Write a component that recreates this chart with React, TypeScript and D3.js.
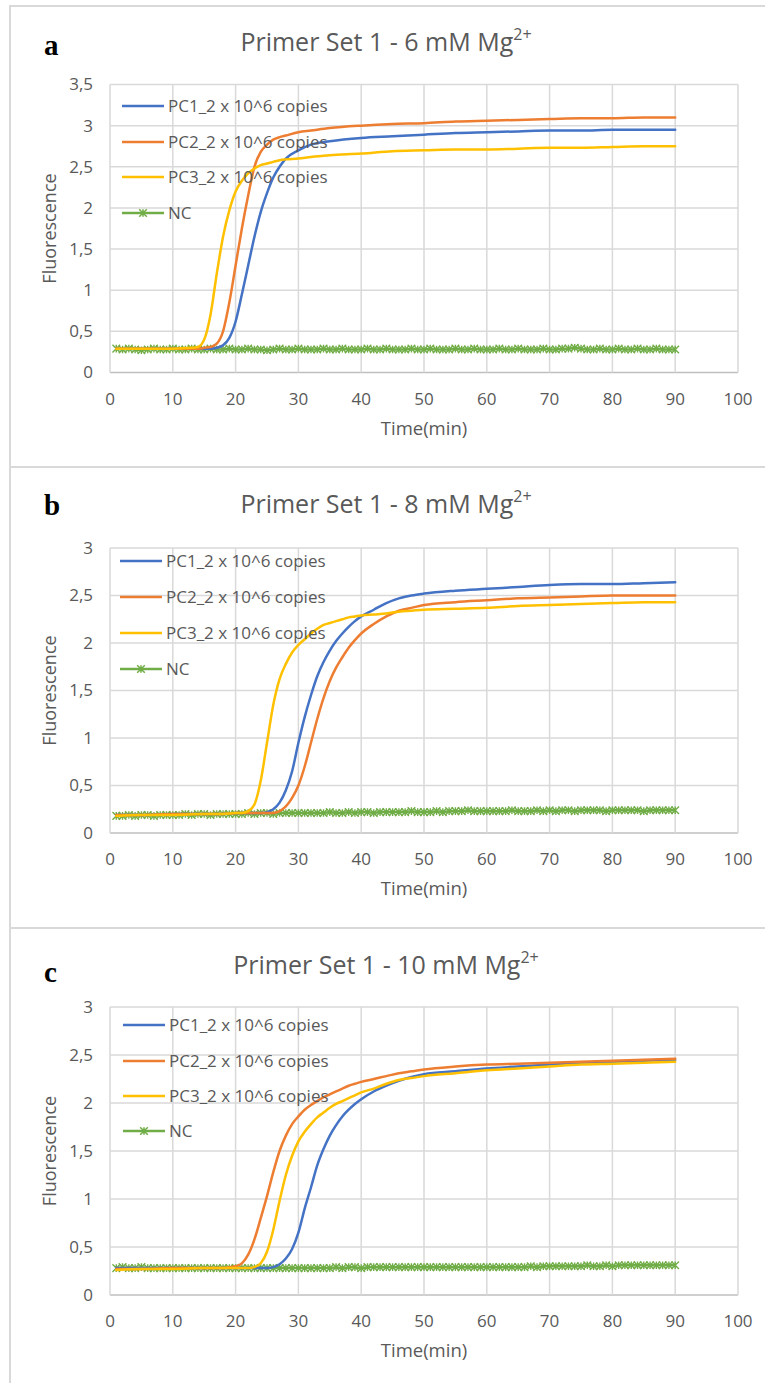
import React from 'react';
import * as d3 from 'd3';

// ---------- shared categories ----------
const X_TICKS = [0, 10, 20, 30, 40, 50, 60, 70, 80, 90, 100];
const Y_TICKS_A = [0, 0.5, 1, 1.5, 2, 2.5, 3, 3.5];
const Y_TICKS_BC = [0, 0.5, 1, 1.5, 2, 2.5, 3];
const SERIES_NAMES = ['PC1_2 x 10^6 copies', 'PC2_2 x 10^6 copies', 'PC3_2 x 10^6 copies', 'NC'];
const PANEL_LETTERS = ['a', 'b', 'c'];
const PANEL_MG = ['6', '8', '10'];
const NC_TIME = d3.range(1, 91);

// ---------- panel a (6 mM) ----------
const timeA = [1, 5, 10, 13, 14, 15, 16, 17, 18, 19, 20, 21, 22, 23, 24, 25, 26, 27, 28, 30, 32, 35, 40, 45, 50, 55, 60, 65, 70, 75, 80, 85, 90];
const pc1A = [0.29, 0.29, 0.29, 0.29, 0.29, 0.29, 0.29, 0.30, 0.33, 0.42, 0.62, 0.95, 1.30, 1.65, 1.95, 2.18, 2.37, 2.50, 2.60, 2.70, 2.77, 2.81, 2.85, 2.87, 2.89, 2.91, 2.92, 2.93, 2.94, 2.94, 2.95, 2.95, 2.95];
const pc2A = [0.29, 0.29, 0.29, 0.29, 0.29, 0.30, 0.31, 0.35, 0.50, 0.85, 1.30, 1.75, 2.15, 2.50, 2.68, 2.77, 2.83, 2.86, 2.88, 2.92, 2.94, 2.97, 3.00, 3.02, 3.03, 3.05, 3.06, 3.07, 3.08, 3.09, 3.09, 3.10, 3.10];
const pc3A = [0.29, 0.29, 0.29, 0.30, 0.31, 0.40, 0.70, 1.20, 1.65, 1.97, 2.20, 2.33, 2.42, 2.48, 2.52, 2.54, 2.56, 2.58, 2.59, 2.60, 2.62, 2.64, 2.66, 2.69, 2.70, 2.71, 2.71, 2.72, 2.73, 2.73, 2.74, 2.75, 2.75];
const ncA = [
  0.29, 0.28, 0.29, 0.28, 0.27, 0.28, 0.29, 0.28, 0.28, 0.29,
  0.28, 0.28, 0.29, 0.28, 0.28, 0.29, 0.28, 0.28, 0.29, 0.28,
  0.28, 0.29, 0.28, 0.28, 0.27, 0.28, 0.29, 0.28, 0.28, 0.29,
  0.28, 0.28, 0.28, 0.29, 0.28, 0.28, 0.29, 0.28, 0.28, 0.28,
  0.29, 0.28, 0.28, 0.29, 0.28, 0.28, 0.28, 0.29, 0.28, 0.28,
  0.29, 0.28, 0.28, 0.28, 0.29, 0.28, 0.28, 0.29, 0.28, 0.28,
  0.28, 0.29, 0.28, 0.28, 0.29, 0.28, 0.28, 0.28, 0.29, 0.28,
  0.28, 0.29, 0.29, 0.30, 0.29, 0.28, 0.28, 0.29, 0.28, 0.28,
  0.29, 0.28, 0.28, 0.29, 0.28, 0.28, 0.29, 0.28, 0.28, 0.28,
];

// ---------- panel b (8 mM) ----------
const timeB = [1, 5, 10, 15, 18, 20, 21, 22, 23, 24, 25, 26, 27, 28, 29, 30, 31, 32, 33, 34, 35, 36, 37, 38, 39, 40, 42, 44, 46, 48, 50, 55, 60, 65, 70, 75, 80, 85, 90];
const pc1B = [0.19, 0.19, 0.20, 0.20, 0.20, 0.21, 0.21, 0.21, 0.21, 0.21, 0.22, 0.25, 0.32, 0.45, 0.65, 0.95, 1.22, 1.45, 1.65, 1.80, 1.92, 2.02, 2.10, 2.17, 2.23, 2.28, 2.35, 2.42, 2.47, 2.50, 2.52, 2.55, 2.57, 2.59, 2.61, 2.62, 2.62, 2.63, 2.64];
const pc2B = [0.19, 0.19, 0.20, 0.20, 0.20, 0.21, 0.21, 0.21, 0.21, 0.21, 0.21, 0.21, 0.23, 0.28, 0.37, 0.50, 0.70, 0.95, 1.20, 1.42, 1.60, 1.74, 1.85, 1.95, 2.03, 2.10, 2.20, 2.28, 2.34, 2.37, 2.40, 2.43, 2.45, 2.47, 2.48, 2.49, 2.50, 2.50, 2.50];
const pc3B = [0.18, 0.19, 0.19, 0.20, 0.20, 0.21, 0.21, 0.23, 0.30, 0.55, 0.95, 1.35, 1.62, 1.78, 1.90, 1.98, 2.04, 2.10, 2.15, 2.19, 2.21, 2.23, 2.25, 2.27, 2.28, 2.29, 2.30, 2.31, 2.33, 2.34, 2.35, 2.36, 2.37, 2.39, 2.40, 2.41, 2.42, 2.43, 2.43];
const ncB = [
  0.18, 0.18, 0.19, 0.18, 0.19, 0.19, 0.18, 0.19, 0.19, 0.19,
  0.19, 0.20, 0.19, 0.20, 0.20, 0.19, 0.20, 0.20, 0.20, 0.20,
  0.20, 0.21, 0.20, 0.21, 0.21, 0.20, 0.21, 0.21, 0.21, 0.21,
  0.21, 0.21, 0.21, 0.21, 0.22, 0.21, 0.21, 0.22, 0.21, 0.22,
  0.22, 0.21, 0.22, 0.22, 0.22, 0.22, 0.22, 0.23, 0.22, 0.22,
  0.22, 0.23, 0.22, 0.23, 0.23, 0.23, 0.24, 0.23, 0.23, 0.23,
  0.23, 0.23, 0.23, 0.24, 0.23, 0.23, 0.23, 0.24, 0.23, 0.24,
  0.23, 0.24, 0.24, 0.23, 0.24, 0.24, 0.24, 0.24, 0.23, 0.24,
  0.24, 0.24, 0.24, 0.24, 0.23, 0.24, 0.24, 0.24, 0.24, 0.24,
];

// ---------- panel c (10 mM) ----------
const timeC = [1, 5, 10, 15, 18, 19, 20, 21, 22, 23, 24, 25, 26, 27, 28, 29, 30, 31, 32, 33, 34, 35, 36, 37, 38, 39, 40, 42, 44, 46, 48, 50, 55, 60, 65, 70, 75, 80, 85, 90];
const pc1C = [0.28, 0.28, 0.28, 0.28, 0.28, 0.28, 0.28, 0.28, 0.28, 0.28, 0.28, 0.28, 0.29, 0.32, 0.38, 0.48, 0.65, 0.90, 1.12, 1.35, 1.52, 1.66, 1.77, 1.86, 1.93, 1.99, 2.04, 2.12, 2.18, 2.23, 2.27, 2.30, 2.33, 2.36, 2.38, 2.40, 2.42, 2.43, 2.44, 2.45];
const pc2C = [0.27, 0.27, 0.28, 0.28, 0.28, 0.29, 0.30, 0.33, 0.42, 0.58, 0.80, 1.03, 1.28, 1.50, 1.66, 1.78, 1.86, 1.93, 1.98, 2.02, 2.06, 2.09, 2.12, 2.15, 2.18, 2.20, 2.22, 2.25, 2.28, 2.31, 2.33, 2.35, 2.38, 2.40, 2.41, 2.42, 2.43, 2.44, 2.45, 2.46];
const pc3C = [0.26, 0.27, 0.27, 0.28, 0.28, 0.28, 0.28, 0.28, 0.28, 0.29, 0.33, 0.45, 0.68, 0.98, 1.25, 1.45, 1.60, 1.70, 1.78, 1.85, 1.90, 1.95, 1.99, 2.02, 2.05, 2.08, 2.11, 2.15, 2.20, 2.24, 2.26, 2.28, 2.31, 2.34, 2.36, 2.38, 2.40, 2.41, 2.42, 2.43];
const ncC = [
  0.28, 0.29, 0.28, 0.28, 0.29, 0.28, 0.28, 0.28, 0.28, 0.28,
  0.28, 0.28, 0.28, 0.28, 0.28, 0.28, 0.28, 0.28, 0.28, 0.28,
  0.28, 0.28, 0.28, 0.28, 0.28, 0.28, 0.28, 0.28, 0.28, 0.28,
  0.28, 0.28, 0.28, 0.28, 0.28, 0.29, 0.28, 0.29, 0.29, 0.28,
  0.29, 0.29, 0.29, 0.29, 0.29, 0.29, 0.29, 0.29, 0.29, 0.29,
  0.29, 0.29, 0.29, 0.29, 0.29, 0.29, 0.29, 0.29, 0.29, 0.29,
  0.29, 0.29, 0.29, 0.29, 0.29, 0.29, 0.30, 0.29, 0.30, 0.30,
  0.30, 0.30, 0.30, 0.30, 0.30, 0.31, 0.30, 0.30, 0.31, 0.30,
  0.31, 0.31, 0.31, 0.31, 0.31, 0.31, 0.31, 0.31, 0.31, 0.31,
];

// ---------- styles / layout ----------
const COLORS = ['#4472C4', '#ED7D31', '#FFC000', '#70AD47'];
const TEXT = '#595959';
const GRID = '#D9D9D9';
const AXIS = '#BFBFBF';
const FONT = "'Open Sans', 'Noto Sans', sans-serif";
const W = 765;
const H = 1383;
const PLOT_X0 = 110;
const PLOT_X1 = 738;

const LAYOUT = [
  { top: 84.5, bottom: 372.5, yMax: 3.5, yTicks: Y_TICKS_A, border: 6, title: 51, letter: 55, legendY: [106, 142, 177, 213], legendX: 122 },
  { top: 548, bottom: 833, yMax: 3, yTicks: Y_TICKS_BC, border: 467, title: 513, letter: 515, legendY: [561, 597, 633, 669], legendX: 120 },
  { top: 1007, bottom: 1295, yMax: 3, yTicks: Y_TICKS_BC, border: 928, title: 974, letter: 982, legendY: [1025, 1061, 1096, 1131], legendX: 123 },
];

const PANELS = [
  { time: timeA, series: [pc1A, pc2A, pc3A], nc: ncA },
  { time: timeB, series: [pc1B, pc2B, pc3B], nc: ncB },
  { time: timeC, series: [pc1C, pc2C, pc3C], nc: ncC },
];

const starPath = (s: number) => `M${-s},${-s}L${s},${s}M${-s},${s}L${s},${-s}M0,${-s}L0,${s}`;

function Panel({ idx }: { idx: number }) {
  const L = LAYOUT[idx];
  const P = PANELS[idx];
  const x = d3.scaleLinear().domain([0, 100]).range([PLOT_X0, PLOT_X1]);
  const y = d3.scaleLinear().domain([0, L.yMax]).range([L.bottom, L.top]);
  const line = d3
    .line<[number, number]>()
    .x((d) => x(d[0]))
    .y((d) => y(d[1]))
    .curve(d3.curveMonotoneX);
  const ncLine = d3
    .line<[number, number]>()
    .x((d) => x(d[0]))
    .y((d) => y(d[1]));
  const ncPts: [number, number][] = NC_TIME.map((t, i) => [t, P.nc[i]]);
  const cx = (PLOT_X0 + PLOT_X1) / 2;
  const cy = (L.top + L.bottom) / 2;
  return (
    <g>
      {/* panel frame */}
      <line x1={10} x2={W} y1={L.border} y2={L.border} stroke={GRID} strokeWidth={2} />
      {/* letter */}
      <text x={44} y={L.letter} fontFamily="'Liberation Serif', 'Times New Roman', serif" fontWeight="bold" fontSize={29} fill="#000">
        {PANEL_LETTERS[idx]}
      </text>
      {/* title */}
      <text x={386} y={L.title} textAnchor="middle" fontFamily={FONT} fontSize={25} fill={TEXT}>
        {`Primer Set 1 - ${PANEL_MG[idx]} mM Mg`}
        <tspan dy={-11} fontSize={16}>2+</tspan>
      </text>
      {/* grid */}
      {L.yTicks.map((t) => (
        <line key={'h' + t} x1={PLOT_X0} x2={PLOT_X1} y1={y(t)} y2={y(t)} stroke={t === 0 ? AXIS : GRID} strokeWidth={1.5} />
      ))}
      {X_TICKS.map((t) => (
        <line key={'v' + t} x1={x(t)} x2={x(t)} y1={L.top} y2={L.bottom} stroke={GRID} strokeWidth={1.5} />
      ))}
      {/* y tick labels */}
      {L.yTicks.map((t) => (
        <text key={'yl' + t} x={93} y={y(t)} dy="0.35em" textAnchor="end" fontFamily={FONT} fontSize={17} fill={TEXT}>
          {String(t).replace('.', ',')}
        </text>
      ))}
      {/* x tick labels */}
      {X_TICKS.map((t) => (
        <text key={'xl' + t} x={x(t)} y={L.bottom + 32} textAnchor="middle" fontFamily={FONT} fontSize={17} fill={TEXT}>
          {t}
        </text>
      ))}
      {/* axis titles */}
      <text x={cx} y={L.bottom + 62} textAnchor="middle" fontFamily={FONT} fontSize={18.5} fill={TEXT}>
        Time(min)
      </text>
      <text transform={`translate(56,${cy}) rotate(-90)`} textAnchor="middle" fontFamily={FONT} fontSize={18} fill={TEXT}>
        Fluorescence
      </text>
      {/* NC series */}
      <path d={ncLine(ncPts) || ''} fill="none" stroke={COLORS[3]} strokeWidth={2.5} />
      {ncPts.map((d, i) => (
        <path key={'m' + i} d={starPath(3.8)} transform={`translate(${x(d[0])},${y(d[1])})`} stroke={COLORS[3]} strokeWidth={1.4} fill="none" />
      ))}
      {/* PC series */}
      {P.series.map((s, si) => (
        <path
          key={'s' + si}
          d={line(P.time.map((t, i) => [t, s[i]] as [number, number])) || ''}
          fill="none"
          stroke={COLORS[si]}
          strokeWidth={2.5}
          strokeLinejoin="round"
          strokeLinecap="round"
        />
      ))}
      {/* legend */}
      {SERIES_NAMES.map((name, i) => (
        <g key={'lg' + i}>
          <line x1={L.legendX} x2={L.legendX + 42} y1={L.legendY[i]} y2={L.legendY[i]} stroke={COLORS[i]} strokeWidth={2.5} />
          {i === 3 && (
            <path d={starPath(3.8)} transform={`translate(${L.legendX + 21},${L.legendY[i]})`} stroke={COLORS[3]} strokeWidth={1.5} fill="none" />
          )}
          <text x={L.legendX + 46} y={L.legendY[i]} dy="0.35em" fontFamily={FONT} fontSize={17} fill={TEXT}>
            {name}
          </text>
        </g>
      ))}
    </g>
  );
}

export default function App() {
  return (
    <svg
      width={W}
      height={H}
      viewBox={`0 0 ${W} ${H}`}
      style={{ position: 'absolute', left: 0, top: 0, display: 'block', background: '#fff' }}
    >
      <rect x={0} y={0} width={W} height={H} fill="#fff" />
      <line x1={10} x2={10} y1={5} y2={H} stroke={GRID} strokeWidth={2} />
      {[0, 1, 2].map((i) => (
        <Panel key={i} idx={i} />
      ))}
    </svg>
  );
}
